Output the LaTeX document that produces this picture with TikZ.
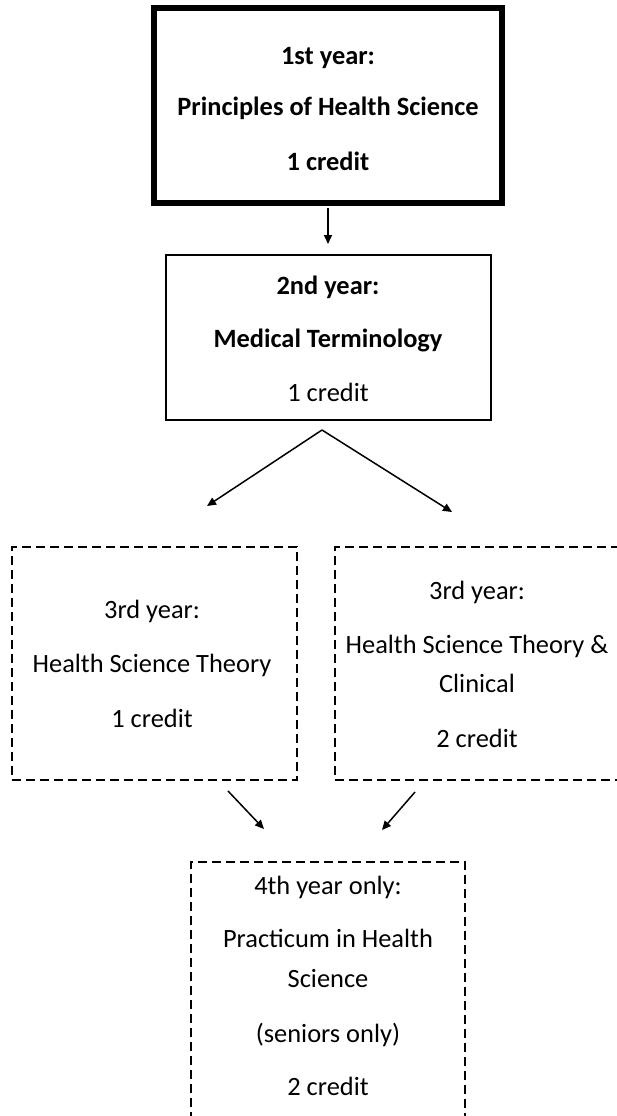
\documentclass[tikz,border=0pt]{standalone}
\usepackage{fontspec}
\setmainfont{Carlito}
\usetikzlibrary{arrows.meta}
\begin{document}
\begin{tikzpicture}[x=1pt,y=-1pt,
  solidbox/.style={draw, line width=2pt, inner sep=0pt},
  thickbox/.style={draw, line width=6.5pt, inner sep=0pt},
  dashbox/.style={draw, line width=2.4pt, dash pattern=on 9pt off 5pt, inner sep=0pt},
  txt/.style={anchor=base, inner sep=0pt, font=\fontsize{26.4}{32}\selectfont},
  btxt/.style={anchor=base, inner sep=0pt, font=\fontsize{26.4}{32}\selectfont\bfseries},
  arr/.style={-{Triangle[length=9pt,width=8pt]}, line width=1.5pt}]
\useasboundingbox (0,0) rectangle (617,1116);
\clip (0,0) rectangle (617,1116);
% boxes
\node[thickbox, minimum width=348pt, minimum height=195pt] (b1) at (328,105.5) {};
\node[solidbox, minimum width=325pt, minimum height=165pt] (b2) at (328,337.5) {};
\node[dashbox, minimum width=285pt, minimum height=233pt] (b3l) at (154.5,663.5) {};
\node[dashbox, minimum width=285pt, minimum height=233pt] (b3r) at (477.5,663.5) {};
\node[dashbox, minimum width=274pt, minimum height=280pt] (b4) at (328,1002) {};
% texts
\node[btxt] (t1a) at (328,65) {1st year:};
\node[btxt] (t1b) at (328,115) {Principles of Health Science};
\node[btxt] (t1c) at (328,170) {1 credit};
\node[btxt] (t2a) at (328,294) {2nd year:};
\node[btxt] (t2b) at (328,347) {Medical Terminology};
\node[txt] (t2c) at (328,401) {1 credit};
\node[txt] (t3la) at (152,618) {3rd year:};
\node[txt] (t3lb) at (152,672) {Health Science Theory};
\node[txt] (t3lc) at (152,727) {1 credit};
\node[txt] (t3ra) at (477,599) {3rd year:};
\node[txt] (t3rb) at (477,653) {Health Science Theory \&};
\node[txt] (t3rc) at (477,692) {Clinical};
\node[txt] (t3rd) at (477,747) {2 credit};
\node[txt] (t4a) at (328,894) {4th year only:};
\node[txt] (t4b) at (328,947) {Practicum in Health};
\node[txt] (t4c) at (328,987) {Science};
\node[txt] (t4d) at (328,1042) {(seniors only)};
\node[txt] (t4e) at (328,1095) {2 credit};
% connectors
\coordinate (apex) at (322,430);
\coordinate (tipL) at (207,506);
\coordinate (tipR) at (452,512);
\coordinate (s3l) at (228,791);
\coordinate (e4l) at (264,829);
\coordinate (s3r) at (415,792);
\coordinate (e4r) at (382,830);
\draw[arr, shorten <=1.5pt, shorten >=10pt] (b1.south) -- (b2.north);
\draw[arr] (apex) -- (tipL);
\draw[arr] (apex) -- (tipR);
\draw[arr] (s3l) -- (e4l);
\draw[arr] (s3r) -- (e4r);
\end{tikzpicture}
\end{document}
